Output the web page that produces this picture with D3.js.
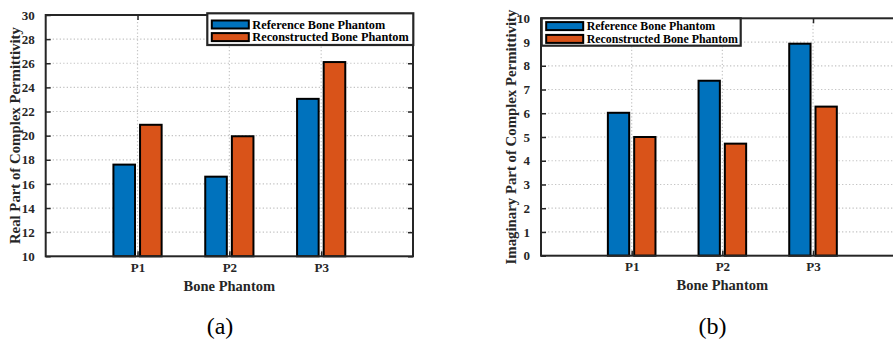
<!DOCTYPE html>
<html>
<head>
<meta charset="utf-8">
<script src="https://cdn.jsdelivr.net/npm/d3@7"></script>
<style>
  html, body { margin: 0; padding: 0; background: #fff; }
  svg { display: block; }
</style>
</head>
<body>
<svg id="chart" width="893" height="343"></svg>
<script>
// ---- data ----
const categories = ["P1", "P2", "P3"];
const seriesNames = ["Reference Bone Phantom", "Reconstructed Bone Phantom"];
const realReference = [17.6, 16.6, 23.05];
const realReconstructed = [20.9, 19.95, 26.1];
const imagReference = [6.02, 7.37, 8.93];
const imagReconstructed = [5.0, 4.72, 6.28];
const realTicks = [10, 12, 14, 16, 18, 20, 22, 24, 26, 28, 30];
const imagTicks = [0, 1, 2, 3, 4, 5, 6, 7, 8, 9, 10];
const xLabel = "Bone Phantom";
const realYLabel = "Real Part of Complex Permittivity";
const imagYLabel = "Imaginary Part of Complex Permittivity";
const captions = ["(a)", "(b)"];

// ---- style ----
const colors = ["#0072BD", "#D95319"];
const axisColor = "#262626";
const gridColor = "#c4c4c4";
const fontFamily = "'Liberation Serif', 'Times New Roman', serif";

const svg = d3.select("#chart");

function drawPanel(cfg) {
  const g = svg.append("g");
  const x = d3.scaleLinear().domain([0, categories.length + 1]).range([cfg.left, cfg.right]);
  const y = d3.scaleLinear().domain(cfg.domain).range([cfg.bottom, cfg.top]);
  const w = cfg.right - cfg.left;
  const h = cfg.bottom - cfg.top;
  const catPos = categories.map((c, i) => i + 1);

  // grid
  const grid = g.append("g").attr("class", "grid");
  grid.selectAll("line.hg").data(cfg.ticks.slice(1, -1)).join("line")
    .attr("x1", cfg.left).attr("x2", cfg.right)
    .attr("y1", d => y(d)).attr("y2", d => y(d))
    .attr("stroke", gridColor).attr("stroke-width", 1.2).attr("stroke-dasharray", "1.3,2.2");
  grid.selectAll("line.vg").data(catPos).join("line")
    .attr("x1", d => x(d)).attr("x2", d => x(d))
    .attr("y1", cfg.top).attr("y2", cfg.bottom)
    .attr("stroke", gridColor).attr("stroke-width", 1.2).attr("stroke-dasharray", "1.3,2.2");

  // bars
  const offsets = [-0.145, 0.145];
  const bw = 0.235;
  [cfg.ref, cfg.rec].forEach((vals, s) => {
    g.append("g").selectAll("rect").data(vals).join("rect")
      .attr("x", (d, i) => x(catPos[i] + offsets[s] - bw / 2))
      .attr("width", x(bw) - x(0))
      .attr("y", d => y(d))
      .attr("height", d => y(cfg.domain[0]) - y(d))
      .attr("fill", colors[s])
      .attr("stroke", "#000").attr("stroke-width", 2);
  });

  // axes box
  g.append("rect").attr("x", cfg.left).attr("y", cfg.top).attr("width", w).attr("height", h)
    .attr("fill", "none").attr("stroke", axisColor).attr("stroke-width", 2);

  const yAxis = d3.axisLeft(y).tickValues(cfg.ticks).tickSize(-5).tickPadding(11);
  const ya = g.append("g").attr("transform", `translate(${cfg.left},0)`).call(yAxis);
  ya.select(".domain").remove();
  ya.selectAll("line").attr("stroke", axisColor).attr("stroke-width", 1.5);
  ya.selectAll("text").attr("fill", axisColor).attr("font-family", fontFamily)
    .attr("font-weight", "bold").attr("font-size", 13);

  const yAxisR = d3.axisRight(y).tickValues(cfg.ticks).tickSize(-5).tickFormat("");
  const yr = g.append("g").attr("transform", `translate(${cfg.right},0)`).call(yAxisR);
  yr.select(".domain").remove();
  yr.selectAll("line").attr("stroke", axisColor).attr("stroke-width", 1.5);

  const xAxis = d3.axisBottom(x).tickValues(catPos).tickSize(-5).tickPadding(6)
    .tickFormat((d, i) => categories[i]);
  const xa = g.append("g").attr("transform", `translate(0,${cfg.bottom})`).call(xAxis);
  xa.select(".domain").remove();
  xa.selectAll("line").attr("stroke", axisColor).attr("stroke-width", 1.5);
  xa.selectAll("text").attr("fill", axisColor).attr("font-family", fontFamily)
    .attr("font-weight", "bold").attr("font-size", 13);

  const xAxisT = d3.axisTop(x).tickValues(catPos).tickSize(-5).tickFormat("");
  const xt = g.append("g").attr("transform", `translate(0,${cfg.top})`).call(xAxisT);
  xt.select(".domain").remove();
  xt.selectAll("line").attr("stroke", axisColor).attr("stroke-width", 1.5);

  // axis labels
  g.append("text").attr("x", x(2)).attr("y", cfg.xLabelY)
    .attr("text-anchor", "middle").attr("fill", axisColor)
    .attr("font-family", fontFamily).attr("font-weight", "bold").attr("font-size", 14.5)
    .text(xLabel);
  g.append("text")
    .attr("transform", `translate(${cfg.yLabelX},${(cfg.top + cfg.bottom) / 2}) rotate(-90)`)
    .attr("text-anchor", "middle").attr("fill", axisColor)
    .attr("font-family", fontFamily).attr("font-weight", "bold").attr("font-size", 14.8)
    .text(cfg.yLabel);

  // legend
  const L = cfg.legend;
  const lg = g.append("g");
  lg.append("rect").attr("x", L.x).attr("y", L.y).attr("width", L.w).attr("height", L.h)
    .attr("fill", "#fff").attr("stroke", axisColor).attr("stroke-width", 2.2);
  seriesNames.forEach((name, s) => {
    const cy = L.y + L.rows[s];
    lg.append("rect").attr("x", L.x + 4.5).attr("y", cy - 4).attr("width", 37).attr("height", 8)
      .attr("fill", colors[s]).attr("stroke", "#000").attr("stroke-width", 2);
    lg.append("text").attr("x", L.x + 45).attr("y", cy + 4.3)
      .attr("fill", "#000").attr("font-family", fontFamily).attr("font-weight", "bold")
      .attr("font-size", L.fs).text(name);
  });

  // caption
  svg.append("text").attr("x", cfg.captionX).attr("y", 334)
    .attr("text-anchor", "middle").attr("fill", "#000")
    .attr("font-family", fontFamily).attr("font-size", 24)
    .text(cfg.caption);
}

drawPanel({
  left: 45.7, right: 413, top: 15, bottom: 256.3,
  domain: [10, 30], ticks: realTicks,
  ref: realReference, rec: realReconstructed,
  yLabel: realYLabel, yLabelX: 19.5, xLabelY: 290.5,
  legend: { x: 207.3, y: 13.3, w: 206, h: 31.7, rows: [11.2, 23.8], fs: 12.3 },
  caption: captions[0], captionX: 220
});

drawPanel({
  left: 541, right: 903.7, top: 18.3, bottom: 255.7,
  domain: [0, 10], ticks: imagTicks,
  ref: imagReference, rec: imagReconstructed,
  yLabel: imagYLabel, yLabelX: 516, xLabelY: 289.5,
  legend: { x: 541.7, y: 18.3, w: 199, h: 27.4, rows: [7.8, 20.6], fs: 11.9 },
  caption: captions[1], captionX: 712.5
});
</script>
</body>
</html>
